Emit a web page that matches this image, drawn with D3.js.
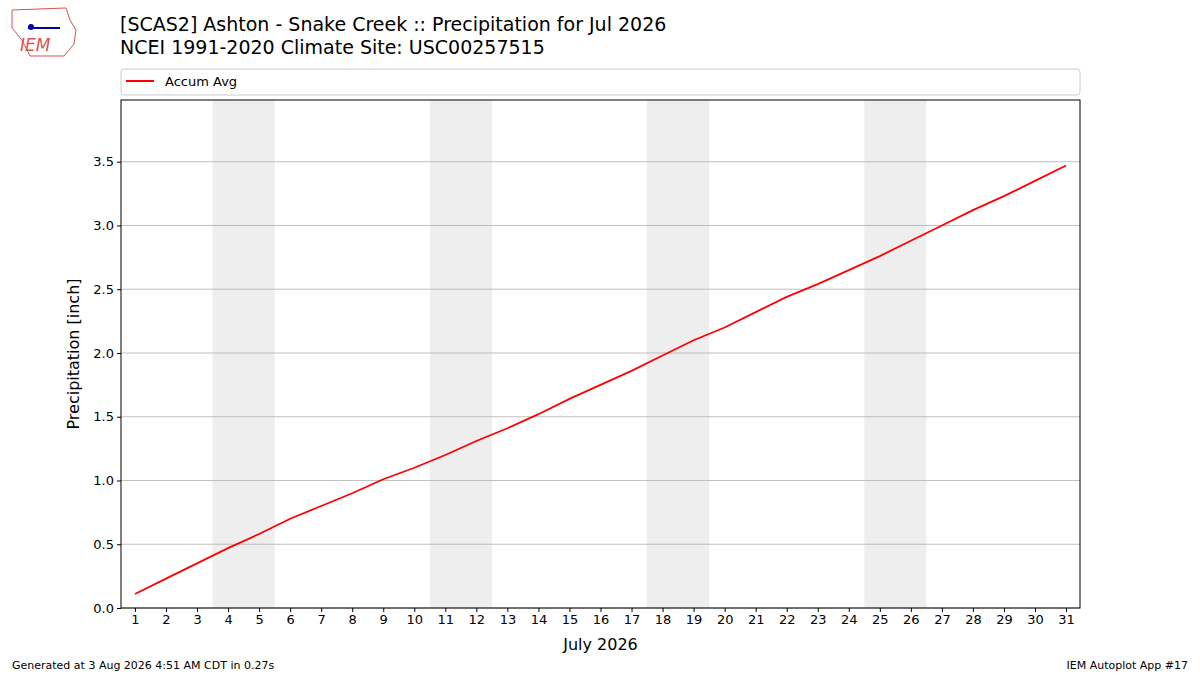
<!DOCTYPE html>
<html><head><meta charset="utf-8">
<script src="https://cdn.jsdelivr.net/npm/d3@7"></script>
<style>body{margin:0;background:#fff}text{font-family:"DejaVu Sans",sans-serif}</style>
</head><body><svg id="c" width="1200" height="675"></svg>
<script>
const days = d3.range(1, 32);
const accum = [0.11,0.23,0.35,0.47,0.58,0.70,0.80,0.90,1.01,1.10,1.20,1.31,1.41,1.52,1.64,1.75,1.86,1.98,2.10,2.20,2.32,2.44,2.54,2.65,2.76,2.88,3.00,3.12,3.23,3.35,3.47];
const weekends = [[3.5,5.5],[10.5,12.5],[17.5,19.5],[24.5,26.5]];
const yTicks = [0,0.5,1,1.5,2,2.5,3,3.5];

const svg = d3.select("#c");
const L=121,R=1080,T=100,B=608;
const x = d3.scaleLinear().domain([0.55,31.45]).range([L,R]);
const y = d3.scaleLinear().domain([0,3.984]).range([B,T]);

svg.selectAll("rect.we").data(weekends).join("rect")
  .attr("x",d=>x(d[0])).attr("width",d=>x(d[1])-x(d[0]))
  .attr("y",T).attr("height",B-T).attr("fill","#eeeeee");
svg.selectAll("line.g").data(yTicks).join("line")
  .attr("x1",L).attr("x2",R).attr("y1",d=>y(d)).attr("y2",d=>y(d))
  .attr("stroke","#b0b0b0").attr("stroke-width",0.8);
svg.append("path").datum(days).attr("fill","none").attr("stroke","red").attr("stroke-width",1.8)
  .attr("d",d3.line().x(d=>x(d)).y((d,i)=>y(accum[i])));
svg.append("rect").attr("x",L).attr("y",T).attr("width",R-L).attr("height",B-T)
  .attr("fill","none").attr("stroke","#000").attr("stroke-width",1);

const xa = svg.append("g").attr("transform",`translate(0,${B})`)
  .call(d3.axisBottom(x).tickValues(days).tickFormat(d3.format("d")).tickSize(4).tickPadding(3));
const ya = svg.append("g").attr("transform",`translate(${L},0)`)
  .call(d3.axisLeft(y).tickValues(yTicks).tickFormat(d3.format(".1f")).tickSize(4).tickPadding(3));
[xa,ya].forEach(a=>{a.select(".domain").remove();a.selectAll("text").attr("font-size",13).attr("fill","#000");a.selectAll("line").attr("stroke","#000");});

svg.append("text").attr("x",(L+R)/2).attr("y",650).attr("text-anchor","middle").attr("font-size",16).text("July 2026");
svg.append("text").attr("transform",`translate(79,${(T+B)/2}) rotate(-90)`).attr("text-anchor","middle").attr("font-size",16).text("Precipitation [inch]");
svg.append("text").attr("x",120).attr("y",31).attr("font-size",19).text("[SCAS2] Ashton - Snake Creek :: Precipitation for Jul 2026");
svg.append("text").attr("x",120).attr("y",54).attr("font-size",19).text("NCEI 1991-2020 Climate Site: USC00257515");

svg.append("rect").attr("x",121).attr("y",69).attr("width",959).attr("height",26).attr("rx",3)
  .attr("fill","#fff").attr("stroke","#ccc");
svg.append("line").attr("x1",126).attr("x2",154).attr("y1",81).attr("y2",81).attr("stroke","red").attr("stroke-width",2);
svg.append("text").attr("x",165).attr("y",86).attr("font-size",13).text("Accum Avg");

svg.append("text").attr("x",12).attr("y",669).attr("font-size",11).text("Generated at 3 Aug 2026 4:51 AM CDT in 0.27s");
svg.append("text").attr("x",1188).attr("y",669).attr("text-anchor","end").attr("font-size",11).text("IEM Autoplot App #17");

const lg = svg.append("g");
lg.append("path").attr("d","M12,10 L66,8 L70,20 L76,30 L74,44 L64,56 L30,56 L22,40 L12,28 Z")
  .attr("fill","none").attr("stroke","#d9534f").attr("stroke-width",1);
lg.append("line").attr("x1",28).attr("x2",60).attr("y1",28).attr("y2",28).attr("stroke","#00a").attr("stroke-width",2);
lg.append("circle").attr("cx",31).attr("cy",27).attr("r",3).attr("fill","#00a");
lg.append("text").attr("x",20).attr("y",51).attr("font-size",17).attr("font-style","italic")
  .attr("font-family","Liberation Serif, serif").attr("fill","#d9534f").text("IEM");
</script></body></html>
